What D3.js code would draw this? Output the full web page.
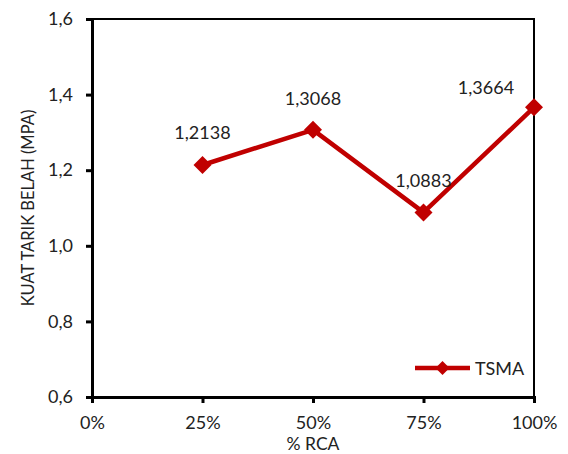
<!DOCTYPE html>
<html>
<head>
<meta charset="utf-8">
<script src="https://cdn.jsdelivr.net/npm/d3@7"></script>
<style>
  html, body { margin: 0; padding: 0; background: #fff; }
  svg { display: block; font-family: Lato, "Open Sans", sans-serif; }
</style>
</head>
<body>
<svg id="chart" width="568" height="454"></svg>
<script>
// Split tensile strength of TSMA by RCA replacement level
const categories = ["0%", "25%", "50%", "75%", "100%"];
const xPositions = [0, 25, 50, 75, 100];
const seriesName = "TSMA";
const pointX = [25, 50, 75, 100];
const tsmaValues = [1.2138, 1.3068, 1.0883, 1.3664];
const yTicks = [0.6, 0.8, 1.0, 1.2, 1.4, 1.6];
const xTitle = "% RCA";
const yTitle = "KUAT TARIK BELAH (MPA)";

const svg = d3.select("#chart");
const plot = { left: 92, right: 534, top: 19, bottom: 397 };
const red = "#C00000";
const fmt = v => v.toFixed(4).replace(".", ",");
const fmtTick = v => v.toFixed(1).replace(".", ",");

const x = d3.scaleLinear().domain([0, 100]).range([plot.left, plot.right]);
const y = d3.scaleLinear().domain([0.6, 1.6]).range([plot.bottom, plot.top]);

// plot area frame
svg.append("rect")
  .attr("x", plot.left).attr("y", plot.top)
  .attr("width", plot.right - plot.left).attr("height", plot.bottom - plot.top)
  .attr("fill", "none").attr("stroke", "#000").attr("stroke-width", 2);

// y axis
const yAxis = svg.append("g")
  .attr("transform", `translate(${plot.left},0)`)
  .call(d3.axisLeft(y).tickValues(yTicks).tickFormat(fmtTick).tickSize(6).tickPadding(13));
yAxis.select(".domain").attr("stroke-width", 3);
yAxis.selectAll(".tick line").attr("stroke-width", 3);
yAxis.selectAll("text").attr("font-size", 18).attr("fill", "#222")
  .attr("font-family", "Lato, sans-serif");

// x axis
const xAxis = svg.append("g")
  .attr("transform", `translate(0,${plot.bottom})`)
  .call(d3.axisBottom(x).tickValues(xPositions)
    .tickFormat((d, i) => categories[i]).tickSize(6).tickPadding(13));
xAxis.select(".domain").attr("stroke-width", 3);
xAxis.selectAll(".tick line").attr("stroke-width", 3);
xAxis.selectAll("text").attr("font-size", 18).attr("fill", "#222")
  .attr("font-family", "Lato, sans-serif");

// axis titles
svg.append("text")
  .attr("x", (plot.left + plot.right) / 2).attr("y", 450)
  .attr("text-anchor", "middle").attr("font-size", 17.5).attr("fill", "#222")
  .text(xTitle);
svg.append("text")
  .attr("transform", `translate(34,${(plot.top + plot.bottom) / 2}) rotate(-90)`)
  .attr("text-anchor", "middle").attr("font-size", 16.5).attr("fill", "#222")
  .text(yTitle);

// series line
const pts = pointX.map((px, i) => ({ x: px, v: tsmaValues[i] }));
svg.append("path")
  .datum(pts)
  .attr("fill", "none").attr("stroke", red).attr("stroke-width", 4.5)
  .attr("stroke-linejoin", "round")
  .attr("d", d3.line().x(d => x(d.x)).y(d => y(d.v)));

// diamond markers
const diamond = (cx, cy, r) => `M${cx},${cy - r}L${cx + r},${cy}L${cx},${cy + r}L${cx - r},${cy}Z`;
svg.append("g").selectAll("path")
  .data(pts).join("path")
  .attr("d", d => diamond(x(d.x), y(d.v), 9))
  .attr("fill", red);

// value labels
const labelOffset = [[0, -26], [0, -25], [0, -25], [-48, -13]];
svg.append("g").selectAll("text")
  .data(pts).join("text")
  .attr("x", (d, i) => x(d.x) + labelOffset[i][0])
  .attr("y", (d, i) => y(d.v) + labelOffset[i][1])
  .attr("text-anchor", "middle").attr("font-size", 18).attr("fill", "#222")
  .text(d => fmt(d.v));

// legend
const lg = svg.append("g").attr("transform", "translate(415,368)");
lg.append("line").attr("x1", 0).attr("x2", 55).attr("y1", 0).attr("y2", 0)
  .attr("stroke", red).attr("stroke-width", 4.5);
lg.append("path").attr("d", diamond(27.5, 0, 7)).attr("fill", red);
lg.append("text").attr("x", 60).attr("y", 6.5)
  .attr("font-size", 18).attr("fill", "#222").text(seriesName);
</script>
</body>
</html>
